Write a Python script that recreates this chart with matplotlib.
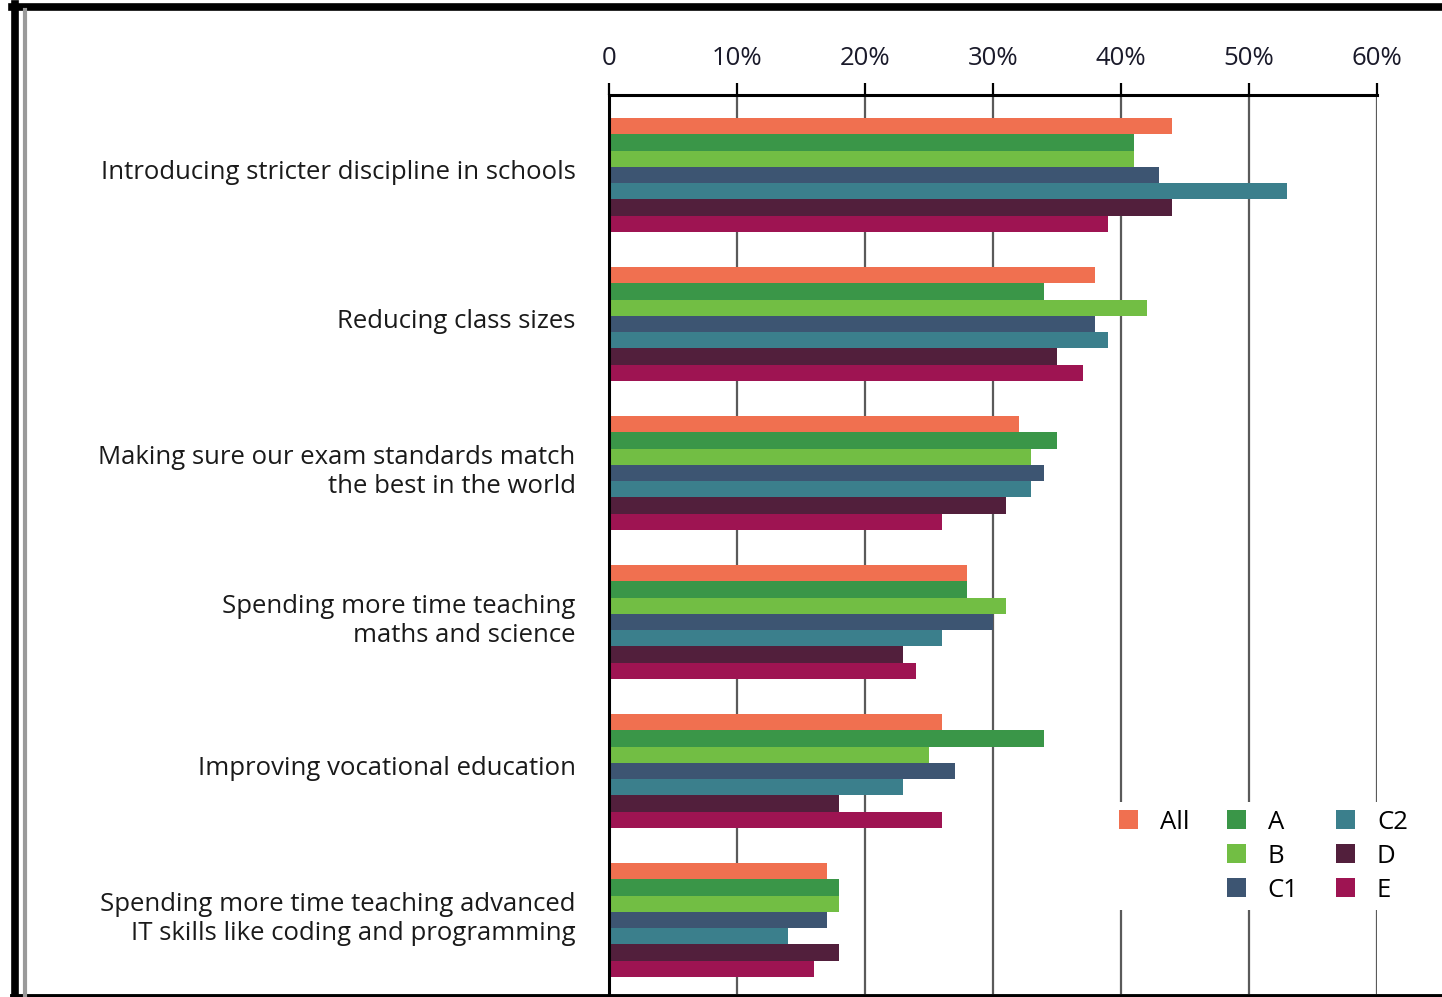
import numpy as np
import matplotlib.pyplot as plt
from matplotlib.patches import Patch
from matplotlib.lines import Line2D

plt.rcParams['font.family'] = ['Open Sans', 'DejaVu Sans']

categories = [
    "Introducing stricter discipline in schools",
    "Reducing class sizes",
    "Making sure our exam standards match\nthe best in the world",
    "Spending more time teaching\nmaths and science",
    "Improving vocational education",
    "Spending more time teaching advanced\nIT skills like coding and programming",
]
series = ["All", "A", "B", "C1", "C2", "D", "E"]
colors = ["#F07050", "#3A9648", "#72BE44", "#3D5572", "#3B7F8C", "#521F3C", "#9E1452"]

# percent, one list per series, in category order
all_vals = [44, 38, 32, 28, 26, 17]
a_vals = [41, 34, 35, 28, 34, 18]
b_vals = [41, 42, 33, 31, 25, 18]
c1_vals = [43, 38, 34, 30, 27, 17]
c2_vals = [53, 39, 33, 26, 23, 14]
d_vals = [44, 35, 31, 23, 18, 18]
e_vals = [39, 37, 26, 24, 26, 16]
values = [all_vals, a_vals, b_vals, c1_vals, c2_vals, d_vals, e_vals]

xticks = [0, 10, 20, 30, 40, 50, 60]
xtick_labels = ["0", "10%", "20%", "30%", "40%", "50%", "60%"]

FS = 18.5
W, H = 1442, 997
fig = plt.figure(figsize=(W / 100, H / 100), dpi=100)
ax = fig.add_axes([609 / W, 1 - 994 / H, (1377 - 609) / W, (994 - 95) / H])

y = np.arange(len(categories))
bh = 0.1094
for i, (name, vals) in enumerate(zip(series, values)):
    offs = (i - 3) * bh
    ax.barh(y + offs, vals, height=bh, color=colors[i], zorder=3, label=name)

ax.set_xlim(0, 60)
ax.set_ylim(5.497, -0.537)
ax.xaxis.tick_top()
ax.set_xticks(xticks)
ax.set_xticklabels(xtick_labels, fontsize=FS, color="#1a1a2a")
ax.tick_params(axis="x", direction="out", length=9, width=1.6, pad=8, color="black")
ax.set_yticks(y - 0.04)
ax.set_yticklabels(categories, fontsize=FS, color="#1a1a1a", linespacing=1.2)
ax.tick_params(axis="y", length=0, pad=24)
ax.grid(axis="x", color="#5a5a5a", linewidth=1.6, zorder=0)
ax.set_axisbelow(True)
for s in ["right", "bottom"]:
    ax.spines[s].set_visible(False)
ax.spines["top"].set_linewidth(2.2)
ax.spines["left"].set_linewidth(2.2)
ax.spines["top"].set_zorder(5)
ax.spines["left"].set_zorder(5)

# legend: "All" alone in first column
blank = Patch(facecolor="none", edgecolor="none")
h = [Patch(facecolor=c, edgecolor="none") for c in colors]
handles = [h[0], blank, blank, h[1], h[2], h[3], h[4], h[5], h[6]]
labels = ["All", "", "", "A", "B", "C1", "C2", "D", "E"]
leg = ax.legend(handles, labels, ncol=3, loc="upper left",
                bbox_to_anchor=((1111 - 609) / 768, (994 - 802) / 899),
                fontsize=FS, frameon=True, framealpha=1, facecolor="white",
                edgecolor="none", handlelength=0.75, handleheight=0.75,
                handletextpad=0.85, columnspacing=1.45, labelspacing=0.35,
                borderpad=0.3, borderaxespad=0)
leg.set_zorder(6)

# page frame
fig.add_artist(Line2D([12 / W, 1], [1 - 7 / H, 1 - 7 / H], color="black", lw=5.5))
fig.add_artist(Line2D([15 / W, 15 / W], [0, 1 - 4 / H], color="black", lw=5.5))
fig.add_artist(Line2D([12 / W, 1], [1 - 995.5 / H, 1 - 995.5 / H], color="black", lw=3.5))
fig.add_artist(Line2D([25 / W, 25 / W], [1 / H, 1 - 10 / H], color="#9a9a9a", lw=3))

fig.savefig("out.png", dpi=100)
